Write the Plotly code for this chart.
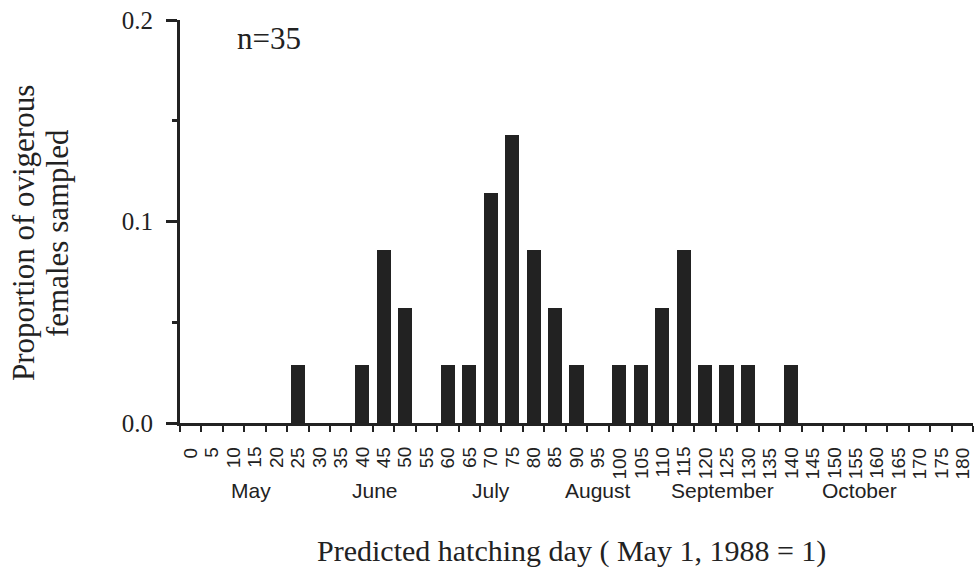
import plotly.graph_objects as go

# Predicted hatching day bins (5-day classes, May 1, 1988 = day 1)
days = list(range(0, 181, 5))
day_labels = [str(d) for d in days]

# Proportion of ovigerous females sampled in each class (n = 35)
proportion = [
    0, 0, 0, 0, 0, 0.029, 0, 0, 0.029, 0.086,      # 0 - 45
    0.057, 0, 0.029, 0.029, 0.114, 0.143, 0.086,    # 50 - 80
    0.057, 0.029, 0, 0.029, 0.029, 0.057, 0.086,    # 85 - 115
    0.029, 0.029, 0.029, 0, 0.029, 0, 0, 0,         # 120 - 155
    0, 0, 0, 0, 0,                                  # 160 - 180
]

# Month names placed under the day axis (x in day units)
months = ["May", "June", "July", "August", "September", "October"]
month_pos = [14, 43, 70, 95, 124, 156]

y_ticks = [0.0, 0.1, 0.2]
y_tick_text = ["0.0", "0.1", "0.2"]

INK = "#222222"
SERIF = "Liberation Serif, Times New Roman, serif"
SANS = "Liberation Sans, Arial, sans-serif"
X_RANGE = [-2.5, 182.5]

fig = go.Figure(
    go.Bar(
        x=days,
        y=proportion,
        width=3.3,
        marker=dict(color=INK, line=dict(width=0)),
        showlegend=False,
    )
)

fig.update_layout(
    xaxis=dict(
        range=X_RANGE,
        # short ticks on the class boundaries; day labels are drawn
        # as vertical text annotations at the class centres
        tickmode="linear",
        tick0=2.5,
        dtick=5,
        showticklabels=False,
        ticks="outside",
        ticklen=6,
        tickwidth=2,
        tickcolor=INK,
        showline=True,
        linecolor=INK,
        linewidth=3,
        showgrid=False,
        zeroline=False,
        fixedrange=True,
    ),
    yaxis=dict(
        range=[0, 0.2],
        tickmode="array",
        tickvals=y_ticks,
        ticktext=y_tick_text,
        ticks="outside",
        ticklen=11,
        tickwidth=3,
        tickcolor=INK,
        ticklabelstandoff=8,
        tickfont=dict(family=SERIF, size=25, color=INK),
        minor=dict(
            tickmode="array",
            tickvals=[0.05, 0.15],
            ticks="outside",
            ticklen=5,
            tickwidth=3,
            tickcolor=INK,
        ),
        showline=True,
        linecolor=INK,
        linewidth=3,
        showgrid=False,
        zeroline=False,
        fixedrange=True,
    ),
)

annotations = [
    dict(
        text="n=35",
        x=18.3, y=0.191, xref="x", yref="y",
        showarrow=False, xanchor="center", yanchor="middle",
        font=dict(family=SERIF, size=31, color=INK),
    ),
    dict(
        text="Predicted hatching day ( May 1, 1988 = 1)",
        x=0.494, y=-0.318, xref="paper", yref="paper",
        showarrow=False, xanchor="center", yanchor="middle",
        font=dict(family=SERIF, size=30, color=INK),
    ),
]

# Vertical day labels, reading bottom to top, hung from just under the axis
for d, lab in zip(days, day_labels):
    annotations.append(
        dict(
            text=lab,
            x=d, y=-0.055, xref="x", yref="paper",
            showarrow=False, xanchor="center", yanchor="top",
            textangle=-90,
            font=dict(family=SANS, size=19, color=INK),
        )
    )

# Two-line y-axis title, one annotation per line for tight line spacing
for line_text, px in [("Proportion of ovigerous", 24), ("females sampled", 58)]:
    annotations.append(
        dict(
            text=line_text,
            x=(px - 180) / 793, y=0.4715, xref="paper", yref="paper",
            showarrow=False, xanchor="center", yanchor="middle",
            textangle=-90,
            font=dict(family=SERIF, size=31, color=INK),
        )
    )

for name, pos in zip(months, month_pos):
    annotations.append(
        dict(
            text=name,
            x=pos, y=-0.167, xref="x", yref="paper",
            showarrow=False, xanchor="center", yanchor="middle",
            font=dict(family=SANS, size=21, color=INK),
        )
    )

fig.update_layout(
    width=976,
    height=579,
    margin=dict(l=180, r=3, t=20, b=156),
    paper_bgcolor="white",
    plot_bgcolor="white",
    bargap=0,
    annotations=annotations,
)

fig.write_html("out.html", config={"displayModeBar": False})
